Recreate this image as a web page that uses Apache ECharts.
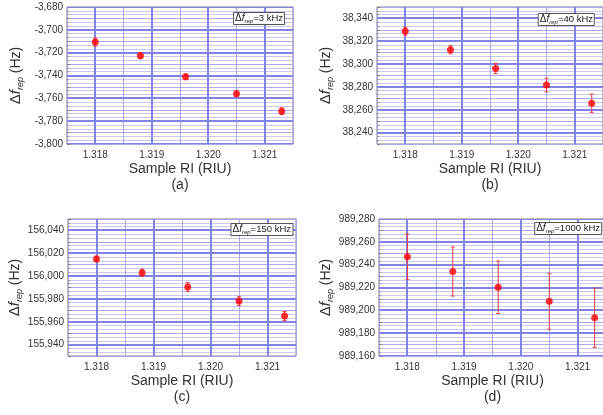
<!DOCTYPE html>
<html>
<head>
<meta charset="utf-8">
<script src="https://cdn.jsdelivr.net/npm/echarts@6/dist/echarts.min.js"></script>
<style>
  html, body { margin: 0; padding: 0; background: #fff; }
  #main { width: 603px; height: 415px; }
</style>
</head>
<body>
<div id="main"></div>
<script>
// sample refractive index, same for the four panels
const sampleRI = [1.318, 1.3188, 1.3196, 1.3205, 1.3213];
const xRange = [1.3175, 1.3215];
const xTicks = [1.318, 1.319, 1.320, 1.321];

// (a) Δf_rep = 3 kHz
const shiftA = [-3710.7, -3722.7, -3741.2, -3756.0, -3771.3];
const errA = [3.5, 2.5, 2.5, 2.5, 3];
const yRangeA = [-3800, -3680];
const yTicksA = [-3800, -3780, -3760, -3740, -3720, -3700, -3680];

// (b) Δf_rep = 40 kHz
const shiftB = [38328.8, 38312.5, 38296.2, 38281.7, 38265.7];
const errB = [3.5, 3.5, 4.5, 6, 8];
const yRangeB = [38230, 38350];
const yTicksB = [38240, 38260, 38280, 38300, 38320, 38340];

// (c) Δf_rep = 150 kHz
const shiftC = [156015, 156003, 155990.5, 155978.2, 155965];
const errC = [2.5, 3, 4, 4, 4];
const yRangeC = [155930, 156050];
const yTicksC = [155940, 155960, 155980, 156000, 156020, 156040];

// (d) Δf_rep = 1000 kHz
const shiftD = [989246.9, 989234, 989220.2, 989207.9, 989193.5];
const errD = [20, 21.5, 23, 24.5, 26];
const yRangeD = [989160, 989280];
const yTicksD = [989160, 989180, 989200, 989220, 989240, 989260, 989280];

const panelNames = ['(a)', '(b)', '(c)', '(d)'];
const refRates = ['3 kHz', '40 kHz', '150 kHz', '1000 kHz'];

const FONT = 'Arial, "Liberation Sans", sans-serif';
const DARK = '#8282e8';
const MID = '#a8a8ee';
const LIGHT = '#c8c8f3';

const chart = echarts.init(document.getElementById('main'));

function addCommas(v) {
  return String(v).replace(/\B(?=(\d{3})+(?!\d))/g, ',');
}

function renderErrorBar(params, api) {
  const x = api.value(0);
  const hi = api.coord([x, api.value(1) + api.value(2)]);
  const lo = api.coord([x, api.value(1) - api.value(2)]);
  const style = { stroke: '#f03c3c', lineWidth: 1 };
  return {
    type: 'group',
    children: [
      { type: 'line', shape: { x1: hi[0], y1: hi[1], x2: lo[0], y2: lo[1] }, style: style },
      { type: 'line', shape: { x1: hi[0] - 2, y1: hi[1], x2: hi[0] + 2, y2: hi[1] }, style: style },
      { type: 'line', shape: { x1: lo[0] - 2, y1: lo[1], x2: lo[0] + 2, y2: lo[1] }, style: style }
    ]
  };
}

// 2px grid lines at the labelled ticks, snapped to whole pixels
function renderMajorLine(params, api) {
  const cs = params.coordSys;
  const pt = api.coord([api.value(0), api.value(1)]);
  const style = { stroke: DARK, lineWidth: 2 };
  if (api.value(2) === 0) {
    const y = Math.round(pt[1]);
    return { type: 'line', shape: { x1: cs.x, y1: y, x2: cs.x + cs.width, y2: y }, style: style };
  }
  const x = Math.round(pt[0]);
  return { type: 'line', shape: { x1: x, y1: cs.y, x2: x, y2: cs.y + cs.height }, style: style };
}

const panels = [
  { y: shiftA, e: errA, range: yRangeA, ticks: yTicksA, grid: { left: 67, top: 7, width: 226, height: 137 }, box: { right: 318, top: 12 } },
  { y: shiftB, e: errB, range: yRangeB, ticks: yTicksB, grid: { left: 377, top: 7, width: 226, height: 137 }, box: { right: 8, top: 13 } },
  { y: shiftC, e: errC, range: yRangeC, ticks: yTicksC, grid: { left: 68, top: 219, width: 228, height: 137 }, box: { right: 310, top: 223 } },
  { y: shiftD, e: errD, range: yRangeD, ticks: yTicksD, grid: { left: 379, top: 219, width: 227, height: 137 }, box: { right: 1, top: 222 } }
];

const grids = [], xAxes = [], yAxes = [], series = [], titles = [];

panels.forEach(function (p, i) {
  grids.push(Object.assign({ show: true, borderColor: '#808080', borderWidth: 1, outerBoundsMode: 'none' }, p.grid));

  xAxes.push({
    type: 'value', gridIndex: i, min: xRange[0], max: xRange[1], interval: 0.0005,
    name: 'Sample RI (RIU)\n' + panelNames[i], nameLocation: 'middle', nameGap: 15,
    nameTextStyle: { fontFamily: FONT, fontSize: 14, color: '#333', lineHeight: 16 },
    axisLine: { show: false },
    axisTick: { show: false },
    axisLabel: {
      fontFamily: FONT, fontSize: 10, color: '#333', margin: 6,
      formatter: function (v) {
        const k = Math.round(v * 10000);
        return k % 10 === 0 ? (k / 10000).toFixed(3) : '';
      }
    },
    splitLine: { show: true, lineStyle: { color: MID, width: 1 } }
  });

  yAxes.push({
    type: 'value', gridIndex: i, min: p.range[0], max: p.range[1], interval: 10,
    name: '{d|Δ}{f|f}{s|rep}{h| (Hz)}', nameLocation: 'middle', nameGap: 42, nameRotate: 90,
    nameTextStyle: {
      rich: {
        d: { fontFamily: FONT, fontSize: 15, color: '#333', lineHeight: 18 },
        f: { fontFamily: FONT, fontSize: 15, fontStyle: 'italic', color: '#333', lineHeight: 18 },
        s: { fontFamily: FONT, fontSize: 9, fontStyle: 'italic', color: '#333', lineHeight: 18, verticalAlign: 'bottom' },
        h: { fontFamily: FONT, fontSize: 14, color: '#333', lineHeight: 18 }
      }
    },
    axisLine: { show: false },
    axisTick: { show: true, inside: true, length: 3, lineStyle: { color: '#808080' } },
    minorTick: { show: true, splitNumber: 3, length: 2, lineStyle: { color: '#999' } },
    axisLabel: {
      fontFamily: FONT, fontSize: 10, color: '#333', margin: 4,
      formatter: function (v) {
        return p.ticks.indexOf(Math.round(v)) >= 0 ? addCommas(Math.round(v)) : '';
      }
    },
    splitLine: { show: true, lineStyle: { color: MID, width: 1 } },
    minorSplitLine: { show: true, lineStyle: { color: LIGHT, width: 1 } }
  });

  const majorRows = p.ticks.map(function (v) { return [xRange[0], v, 0]; })
    .concat(xTicks.map(function (v) { return [v, p.range[0], 1]; }));

  series.push({
    type: 'custom', xAxisIndex: i, yAxisIndex: i,
    renderItem: renderMajorLine,
    encode: { x: 0, y: 1 },
    silent: true,
    clip: true,
    data: majorRows,
    z: 1
  });
  series.push({
    type: 'custom', xAxisIndex: i, yAxisIndex: i,
    renderItem: renderErrorBar,
    encode: { x: 0, y: 1 },
    data: sampleRI.map(function (x, j) { return [x, p.y[j], p.e[j]]; }),
    z: 3
  });
  series.push({
    type: 'scatter', xAxisIndex: i, yAxisIndex: i,
    symbol: 'circle', symbolSize: 7,
    itemStyle: { color: '#ff0000' },
    data: sampleRI.map(function (x, j) { return [x, p.y[j]]; }),
    z: 4
  });

  titles.push({
    text: '{d|Δ}{f|f}{s|rep}{t|=' + refRates[i] + '}',
    right: p.box.right, top: p.box.top,
    padding: [1, 2], borderColor: '#555', borderWidth: 1, backgroundColor: '#fff',
    textStyle: {
      fontWeight: 'normal',
      rich: {
        d: { fontFamily: FONT, fontSize: 10, fontWeight: 'normal', color: '#222', lineHeight: 11 },
        f: { fontFamily: FONT, fontSize: 10, fontWeight: 'normal', fontStyle: 'italic', color: '#222', lineHeight: 11 },
        s: { fontFamily: FONT, fontSize: 6, fontWeight: 'normal', fontStyle: 'italic', color: '#222', lineHeight: 11, verticalAlign: 'bottom' },
        t: { fontFamily: FONT, fontSize: 9.5, fontWeight: 'normal', color: '#222', lineHeight: 11 }
      }
    },
    z: 10
  });
});

chart.setOption({
  backgroundColor: '#ffffff',
  animation: false,
  title: titles,
  grid: grids,
  xAxis: xAxes,
  yAxis: yAxes,
  series: series
});
</script>
</body>
</html>
